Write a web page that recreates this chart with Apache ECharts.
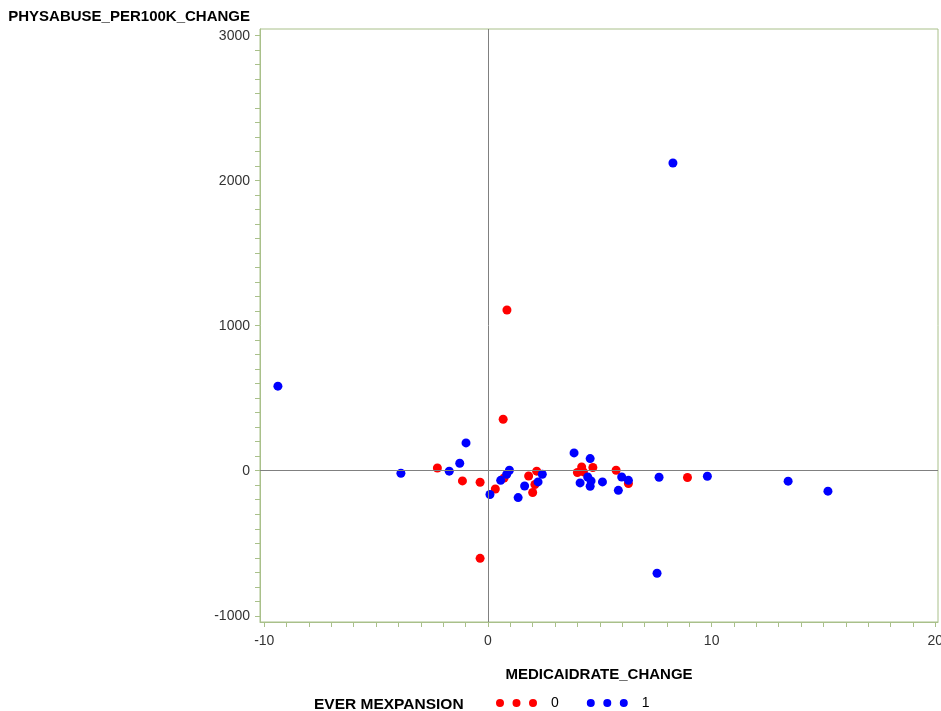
<!DOCTYPE html>
<html>
<head>
<meta charset="utf-8">
<script src="https://cdn.jsdelivr.net/npm/echarts@6/dist/echarts.min.js"></script>
<style>html,body{margin:0;padding:0;background:#fff}#c{width:941px;height:711px}</style>
</head>
<body>
<div id="c"></div>
<script>
// EVER MEXPANSION = 0  [MEDICAIDRATE_CHANGE, PHYSABUSE_PER100K_CHANGE]
var group0 = [
  [-2.26, 19], [-1.14, -70], [-0.35, -79], [-0.35, -604], [0.33, -126],
  [0.72, -50], [0.68, 355], [0.85, 1108], [1.82, -36], [2.18, -3],
  [2.1, -95], [2.0, -150], [4.0, -12], [4.27, -8], [4.19, 26],
  [4.69, 22], [5.73, 3], [6.28, -88], [8.92, -47]
];
// EVER MEXPANSION = 1
var group1 = [
  [-9.39, 583], [-3.89, -17], [-1.73, -3], [-1.26, 52], [-0.98, 192],
  [0.09, -164], [0.57, -66], [0.84, -24], [0.96, 3], [1.35, -185],
  [1.64, -105], [2.24, -77], [2.43, -24], [3.85, 123], [4.57, 84],
  [4.12, -84], [4.46, -43], [4.61, -70], [4.57, -107], [5.12, -77],
  [5.83, -135], [5.98, -43], [6.28, -66], [7.56, -707], [7.65, -45],
  [8.27, 2122], [9.81, -38], [13.42, -72], [15.2, -141]
];
var xLabels = [-10, 0, 10, 20];
var yLabels = [-1000, 0, 1000, 2000, 3000];
var xTicks = []; for (var i = -10; i <= 20; i++) xTicks.push(i);
var yTicks = []; for (var j = -1000; j <= 3000; j += 100) yTicks.push(j);
var groupNames = ['0', '1'];
var legendTitle = 'EVER MEXPANSION';
var xTitle = 'MEDICAIDRATE_CHANGE';
var yTitle = 'PHYSABUSE_PER100K_CHANGE';

var frame = '#a9c08a';
var font = '"Liberation Sans", Arial, sans-serif';
var threeDots = 'path://M0,4a4,4 0 1,0 8,0a4,4 0 1,0 -8,0M16.5,4a4,4 0 1,0 8,0a4,4 0 1,0 -8,0M33,4a4,4 0 1,0 8,0a4,4 0 1,0 -8,0';

var chart = echarts.init(document.getElementById('c'), null, {renderer: 'canvas'});
chart.setOption({
  animation: false,
  backgroundColor: '#fff',
  title: {
    text: legendTitle, left: 314, top: 697, padding: 0,
    textStyle: {fontFamily: font, fontSize: 15.5, fontWeight: 'bold', color: '#000'}
  },
  legend: {
    data: groupNames, left: 496, top: 696, padding: 0, itemWidth: 41, itemHeight: 8, itemGap: 28,
    icon: threeDots,
    textStyle: {fontFamily: font, fontSize: 14, color: '#000', padding: [0, 0, 0, 9]}
  },
  grid: {
    left: 260, top: 29, right: 3, bottom: 89, show: true,
    outerBoundsMode: 'none', containLabel: false,
    borderColor: frame, borderWidth: 1, backgroundColor: '#fff'
  },
  xAxis: {
    type: 'value', min: -10.19, max: 20.12,
    name: xTitle, nameLocation: 'middle', nameGap: 45,
    nameTextStyle: {fontFamily: font, fontSize: 15, fontWeight: 'bold', color: '#000'},
    axisLine: {show: true, onZero: false, lineStyle: {color: frame}},
    axisTick: {show: true, length: 5, customValues: xTicks, lineStyle: {color: frame}},
    axisLabel: {customValues: xLabels, fontFamily: font, fontSize: 14, color: '#333', margin: 12,
      formatter: function (v) { return String(v); }},
    splitLine: {show: false}
  },
  yAxis: {
    type: 'value', min: -1043, max: 3046,
    name: yTitle, nameLocation: 'end', nameGap: 5,
    nameTextStyle: {fontFamily: font, fontSize: 15, fontWeight: 'bold', color: '#000', align: 'right', verticalAlign: 'bottom', padding: [0, 10, 0, 0]},
    axisLine: {show: true, onZero: false, lineStyle: {color: frame}},
    axisTick: {show: true, length: 5, customValues: yTicks, lineStyle: {color: frame}},
    axisLabel: {customValues: yLabels, fontFamily: font, fontSize: 14, color: '#333', margin: 10,
      formatter: function (v) { return String(v); }},
    splitLine: {show: false}
  },
  series: [
    {
      name: 'ref', type: 'scatter', data: [], z: 1, silent: true,
      markLine: {
        silent: true, symbol: 'none', label: {show: false},
        lineStyle: {color: '#808080', width: 1, type: 'solid'},
        data: [{xAxis: 0}, {yAxis: 0}]
      }
    },
    {
      name: groupNames[0], type: 'scatter', data: group0, symbol: 'circle', symbolSize: 9, z: 3,
      itemStyle: {color: '#ff0000', opacity: 1}
    },
    {
      name: groupNames[1], type: 'scatter', data: group1, symbol: 'circle', symbolSize: 9, z: 4,
      itemStyle: {color: '#0000ff', opacity: 1}
    }
  ]
});
</script>
</body>
</html>
